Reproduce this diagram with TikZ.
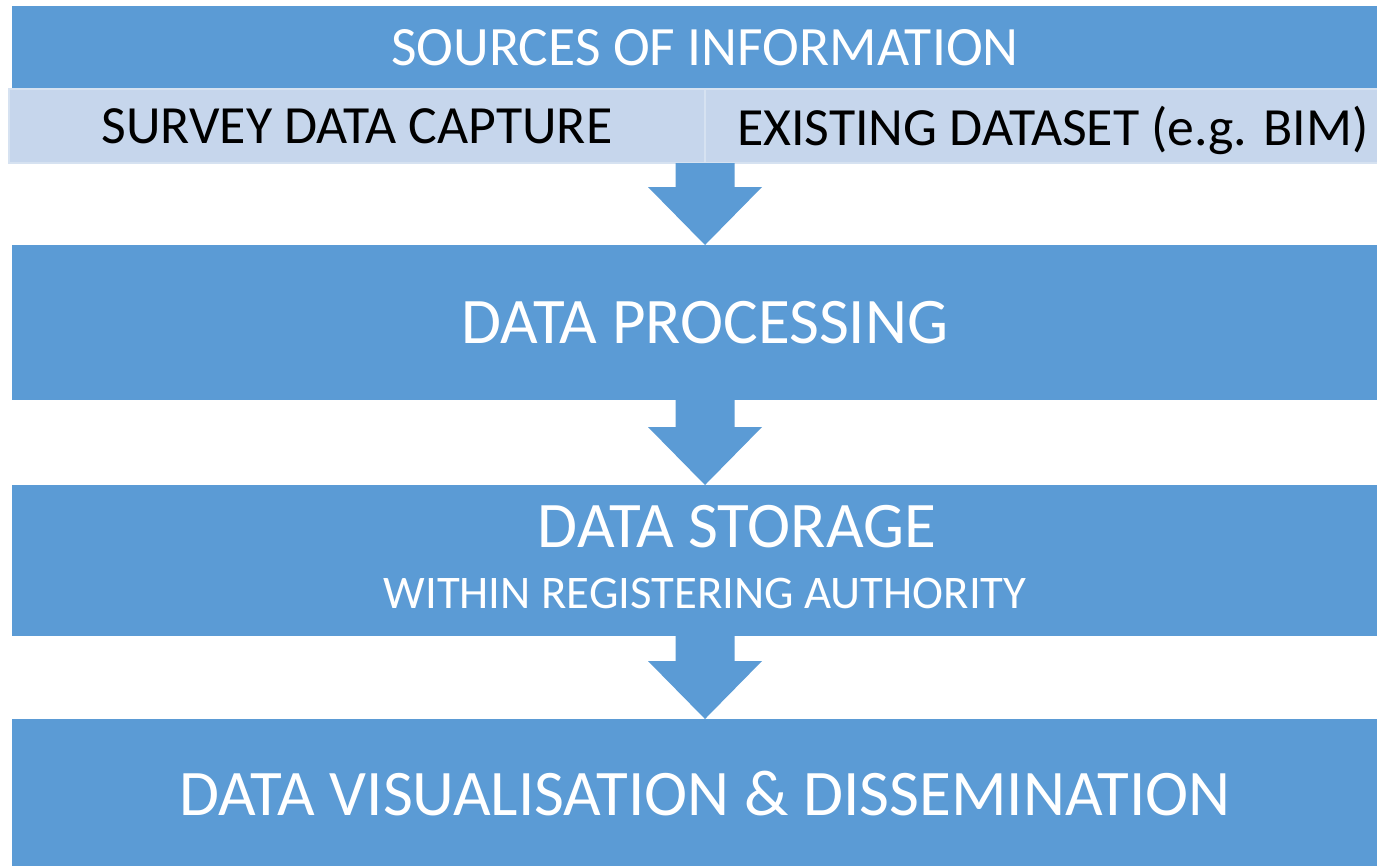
\documentclass[tikz,border=0pt]{standalone}
\usepackage{fontspec}
\setmainfont{Carlito}
\usetikzlibrary{calc}
\usetikzlibrary{positioning}

\definecolor{boxblue}{HTML}{5B9BD5}
\definecolor{cellblue}{HTML}{C6D6EC}
\definecolor{celledge}{HTML}{D6E2F1}

% block arrow from the bottom of one stage to the top of the next
\newcommand{\flowarrow}[2]{%
  \fill[boxblue] ($(#1)+(-.295,0)$) -- ($(#2)+(-.295,.58)$) -- ($(#2)+(-.57,.58)$)
    -- (#2) -- ($(#2)+(.57,.58)$) -- ($(#2)+(.295,.58)$) -- ($(#1)+(.295,0)$) -- cycle;}

\begin{document}
\begin{tikzpicture}
        \tikzset{stage/.style={fill=boxblue, rectangle, align=center, inner sep=0pt, outer sep=0pt,
                   minimum width=13.86cm, text=white},
        cell/.style={fill=cellblue, draw=celledge, line width=0.4pt, rectangle, inner sep=0pt, outer sep=0pt,
                   minimum width=6.96cm, minimum height=0.74cm, text depth=0pt,
                   font=\fontsize{15.3pt}{18pt}\selectfont},
        bigtext/.style={font=\fontsize{18.5pt}{22pt}\selectfont},
        }
        \path[use as bounding box, clip] (0,0) rectangle (13.77,-8.65);

        \node [stage, anchor=north west, minimum height=0.83cm, font=\fontsize{15.8pt}{19pt}\selectfont]
              (sources) at (0.12,-0.06) {SOURCES OF INFORMATION};
        \node [cell, below right=0cm and -0.03cm of sources.south west] (survey) {SURVEY DATA CAPTURE};
        \node [cell, right=0cm of survey] (existing) {EXISTING DATASET (e.g. BIM)};

        \node [stage, bigtext, minimum height=1.55cm, below=0.82cm of survey.south east] (proc) {DATA PROCESSING};
        \node [stage, minimum height=1.51cm, below=0.85cm of proc] (storage) {};
        \node [bigtext, text=white, anchor=base, below=0.62cm of storage.north, anchor=base, xshift=0.32cm]
              (storage_title) {DATA STORAGE};
        \node [text=white, font=\fontsize{13.3pt}{16pt}\selectfont, anchor=base, below=1.23cm of storage.north, anchor=base]
              (storage_sub) {WITHIN REGISTERING AUTHORITY};
        \node [stage, bigtext, minimum height=1.50cm, below=0.83cm of storage] (vis) {DATA VISUALISATION \& DISSEMINATION};

%%% arrows
        \flowarrow{survey.south east}{proc.north}
        \flowarrow{proc.south}{storage.north}
        \flowarrow{storage.south}{vis.north}
    \end{tikzpicture}
\end{document}
